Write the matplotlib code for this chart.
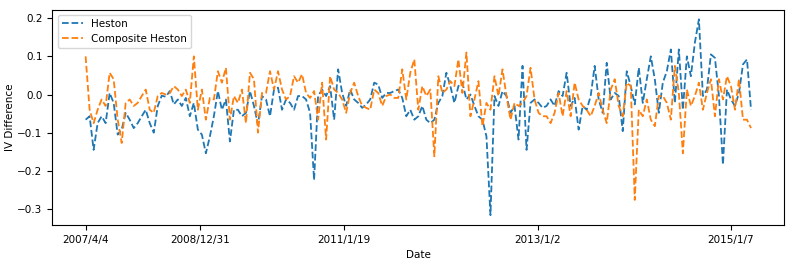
import numpy as np
import matplotlib
matplotlib.use('Agg')
import matplotlib.pyplot as plt

heston = [
    -0.066, -0.057, -0.145, -0.075, -0.057, -0.075, 0.004, -0.022, -0.105, -0.092,
    -0.048, -0.066, -0.088, -0.075, -0.057, -0.04, -0.075, -0.10, -0.03, -0.003,
    -0.006, 0.009, -0.026, -0.013, -0.03, -0.009, -0.057, -0.022, -0.092,
    -0.105, -0.154, -0.11, -0.057, 0.009, -0.04, -0.013, -0.123, -0.04, -0.04,
    -0.057, -0.048, 0.009, -0.03, -0.079, -0.004, -0.013, -0.057, 0.013, 0.018,
    -0.04, -0.013, -0.022, -0.04, -0.004, -0.004, -0.013, -0.048, -0.224,
    -0.004, 0.013, -0.004, 0.022, -0.066, 0.066, 0.004, -0.03, 0.013, -0.013,
    -0.022, -0.035, -0.026, -0.013, 0.031, 0.026, -0.009, 0.004, 0.004, 0.009,
    0.013, -0.009, -0.057, -0.04, -0.066, -0.057, -0.03, -0.066,
    -0.075, -0.066, -0.022, -0.004, 0.057, 0.022, -0.022, 0.022, 0.031, -0.013,
    0.0, -0.03, -0.057, -0.066, -0.11, -0.316, -0.004, -0.03, 0.009, -0.004,
    -0.048, -0.03, -0.118, 0.075, -0.145, -0.022, -0.013, -0.022, -0.035,
    -0.03, -0.013, -0.03, 0.009, -0.004, 0.057, -0.03, -0.009, -0.092, -0.03,
    -0.04, -0.004, 0.075, -0.013, -0.048, 0.083, -0.013, 0.004, -0.004, -0.096,
    0.061, 0.022, -0.026, 0.07, -0.022, 0.04, 0.10, 0.04, -0.048,
    0.031, 0.061, 0.118, -0.022, 0.118, -0.04, 0.10, 0.048, 0.136, 0.197,
    -0.004, 0.013, 0.105, 0.096, -0.004, -0.184, 0.013, -0.013, -0.03, 0.004,
    0.079, 0.092, -0.04,
]

composite = [
    0.10, -0.04, -0.075, -0.04, -0.013, -0.03, 0.057, 0.04, -0.066, -0.127,
    -0.022, -0.013, -0.03, -0.022, -0.004, 0.013, -0.04, -0.048, -0.004, 0.004,
    0.0, 0.004, 0.022, 0.013, -0.004, 0.013, -0.022, 0.10, -0.04,
    0.013, -0.066, -0.009, -0.013, 0.061, 0.031, 0.07, -0.066, -0.004, -0.022,
    0.013, -0.075, 0.057, 0.04, -0.10, 0.004, 0.004, 0.061, 0.013, 0.061,
    0.013, -0.013, -0.004, 0.048, 0.031, 0.053, 0.004, -0.009, 0.009,
    -0.066, 0.031, -0.118, 0.048, 0.013, 0.004, -0.013, -0.048, 0.004, 0.031,
    -0.004, -0.03, -0.035, -0.04, 0.013, 0.004, -0.03, -0.004, 0.0, -0.009,
    -0.009, 0.066, -0.013, 0.057, 0.092, -0.04, 0.022, -0.004,
    0.013, -0.162, 0.048, 0.004, 0.013, 0.035, 0.022, 0.092, 0.004, 0.11,
    -0.057, -0.013, 0.035, -0.083, -0.022, -0.04, 0.048, -0.004, 0.066, -0.004,
    -0.066, -0.022, -0.03, -0.022, -0.004, 0.07, -0.013, -0.048, -0.057,
    -0.057, -0.075, -0.048, 0.004, -0.057, 0.009, -0.057, 0.031, -0.013, -0.03,
    -0.04, -0.057, -0.03, 0.004, -0.04, -0.075, 0.013, 0.04, -0.03, -0.057,
    0.031, 0.022, -0.276, -0.04, -0.057, -0.013, -0.066, -0.083, -0.004,
    -0.004, -0.022, -0.066, 0.075, 0.004, -0.154, 0.013, -0.03, -0.004, 0.031,
    -0.04, 0.004, 0.04, -0.057, 0.04, -0.013, 0.048, 0.022, -0.04, 0.04,
    -0.066, -0.066, -0.088,
]

tick_labels = ['2007/4/4', '2008/12/31', '2011/1/19', '2013/1/2', '2015/1/7']
tick_pos = [0, 28.5, 64.5, 112.75, 161]

x = np.arange(len(heston))

fig, ax = plt.subplots(figsize=(7.93, 2.64), dpi=100)
fig.subplots_adjust(left=0.066, right=0.989, top=0.964, bottom=0.148)

ax.plot(x, heston, '--', color='#1f77b4', lw=1.3, label='Heston')
ax.plot(x, composite, '--', color='#ff7f0e', lw=1.3, label='Composite Heston')

ax.set_xticks(tick_pos)
ax.set_xticklabels(tick_labels)
ax.tick_params(labelsize=7.5)
ax.set_xlabel('Date', fontsize=7.5)
ax.set_ylabel('IV Difference', fontsize=7.5, labelpad=2)
ax.legend(loc='upper left', fontsize=7.5)

fig.savefig('out.png', dpi=100)
